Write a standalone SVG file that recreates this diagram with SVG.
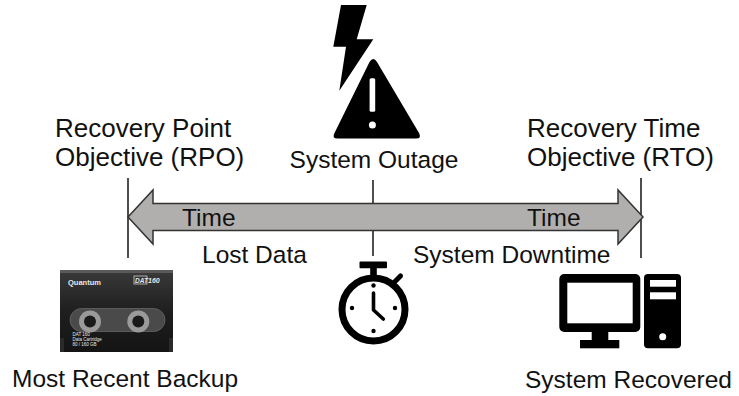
<svg xmlns="http://www.w3.org/2000/svg" width="739" height="396" viewBox="0 0 739 396">
  <style>
    .lbl { font-family: "Liberation Sans", Arial, sans-serif; font-size: 24.5px; fill: #111; }
    .big { font-size: 26px; }
    .mark { stroke: #222; stroke-width: 1.6; fill: none; }
    .ico { fill: #000; }
    .tape-txt { font-family: "Liberation Sans", Arial, sans-serif; fill: #e8e8e8; }
  </style>
  <defs>
    <linearGradient id="tapeBody" x1="0" y1="0" x2="0" y2="1">
      <stop offset="0" stop-color="#3a3a3a"/>
      <stop offset="0.5" stop-color="#1f1f1f"/>
      <stop offset="1" stop-color="#141414"/>
    </linearGradient>
  </defs>

  <!-- connectors: timeline markers and the double-headed time arrow -->
  <g id="connectors">
    <line class="mark" x1="128" y1="178" x2="128" y2="258"/>
    <line class="mark" x1="641" y1="178" x2="641" y2="258"/>
    <line class="mark" x1="373" y1="180" x2="373" y2="256"/>
    <polygon id="time-arrow" points="128,217 153,190 153,203.5 618,203.5 618,190 643,217 618,244 618,230.5 153,230.5 153,244"
             fill="#b1afad" stroke="#333" stroke-width="1.5" stroke-linejoin="miter"/>
    <text class="lbl" x="182" y="226">Time</text>
    <text class="lbl" x="527" y="226">Time</text>
  </g>

  <!-- left marker: recovery point -->
  <g id="rpo">
    <text class="lbl big" x="55" y="137">Recovery Point</text>
    <text class="lbl big" x="55" y="166">Objective (RPO)</text>
    <text class="lbl" x="202" y="263">Lost Data</text>
  </g>

  <!-- centre marker: outage -->
  <g id="outage">
    <polygon class="ico" points="341,5 366.7,5 356.7,39.3 373.3,39.3 339.3,90.7 346,46.7 333.3,46.7"/>
    <path class="ico" d="M369.5,62 Q373.3,56 377,62 L419,133 Q422,138.5 416,138.5 L337.5,138.5 Q331.5,138.5 334.5,133 Z"/>
    <rect x="369.6" y="78.3" width="5.6" height="33.4" rx="1.5" fill="#fff"/>
    <circle cx="372.4" cy="125" r="3.5" fill="#fff"/>
    <text class="lbl" x="374" y="168" text-anchor="middle">System Outage</text>
  </g>

  <!-- right marker: recovery time -->
  <g id="rto">
    <text class="lbl big" x="527" y="137">Recovery Time</text>
    <text class="lbl big" x="527" y="166">Objective (RTO)</text>
    <text class="lbl" x="413" y="263">System Downtime</text>
  </g>

  <!-- backup tape cartridge -->
  <g id="tape">
    <rect x="60" y="270" width="113" height="82" rx="2" fill="url(#tapeBody)"/>
    <rect x="60" y="270" width="113" height="3" fill="#5a5a5a"/>
    <rect x="60" y="338" width="4" height="14" fill="#2a2a2a"/>
    <rect x="169" y="338" width="4" height="14" fill="#2a2a2a"/>
    <text class="tape-txt" x="68" y="285" font-size="7.5" font-weight="bold">Quantum</text>
    <rect x="134" y="276" width="13" height="8" fill="none" stroke="#ccc" stroke-width="0.8"/>
    <text class="tape-txt" x="135" y="283" font-size="6.5" font-style="italic" font-weight="bold">DAT</text>
    <text class="tape-txt" x="148" y="283" font-size="7" font-style="italic" font-weight="bold">160</text>
    <rect x="70" y="308.5" width="95" height="23" rx="11.5" fill="#4a4a4a" stroke="#666" stroke-width="0.8"/>
    <circle cx="90" cy="321.5" r="11" fill="#9a9a9a"/>
    <circle cx="90" cy="321.5" r="6" fill="#1a1a1a"/>
    <circle cx="138.3" cy="321.5" r="11" fill="#9a9a9a"/>
    <circle cx="138.3" cy="321.5" r="6" fill="#1a1a1a"/>
    <text class="tape-txt" x="72.5" y="336" font-size="4.5">DAT 160</text>
    <text class="tape-txt" x="72.5" y="341" font-size="4.5">Data Cartridge</text>
    <text class="tape-txt" x="72.5" y="346" font-size="4.5">80 / 160 GB</text>
    <text class="lbl" x="12" y="387" font-size="25.2">Most Recent Backup</text>
  </g>

  <!-- stopwatch -->
  <g id="stopwatch">
    <rect class="ico" x="359.5" y="261.5" width="27.5" height="6.8" rx="1"/>
    <rect class="ico" x="370.2" y="267" width="6.6" height="9"/>
    <line x1="395" y1="281.5" x2="400.5" y2="276" stroke="#000" stroke-width="5" stroke-linecap="round"/>
    <circle cx="373.5" cy="309.5" r="31.5" fill="none" stroke="#000" stroke-width="7"/>
    <polyline points="373.5,293 373.5,310 383.3,319" fill="none" stroke="#000" stroke-width="3.6" stroke-linecap="round" stroke-linejoin="round"/>
    <circle class="ico" cx="373.5" cy="285.5" r="2.2"/>
    <circle class="ico" cx="373.5" cy="331" r="2.2"/>
    <circle class="ico" cx="352" cy="308" r="2.2"/>
    <circle class="ico" cx="395" cy="308" r="2.2"/>
  </g>

  <!-- recovered computer -->
  <g id="computer">
    <rect class="ico" x="559.3" y="274" width="81" height="58" rx="5"/>
    <rect x="567.3" y="282.7" width="65.4" height="40.6" fill="#fff"/>
    <rect class="ico" x="591.7" y="331" width="16.6" height="10"/>
    <rect class="ico" x="580" y="340" width="39.3" height="8.3"/>
    <rect class="ico" x="644" y="274" width="37" height="74.3" rx="4"/>
    <rect x="650" y="280" width="26" height="6.7" fill="#fff"/>
    <rect x="650" y="292.3" width="26" height="7" fill="#fff"/>
    <circle cx="662.7" cy="336.7" r="3.5" fill="#fff"/>
    <text class="lbl" x="525" y="388" font-size="25">System Recovered</text>
  </g>
</svg>
